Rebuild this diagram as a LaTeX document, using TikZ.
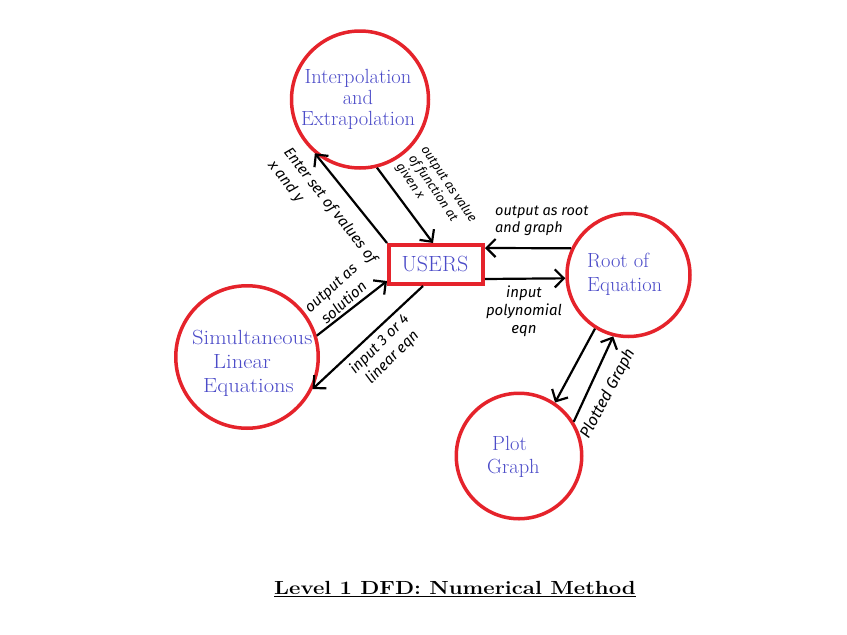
\documentclass[tikz,border=0pt]{standalone}
\usepackage{fontspec}
\newfontfamily\hand{Fira Sans}
\usetikzlibrary{arrows.meta}
\definecolor{dfdred}{HTML}{E5232B}
\definecolor{dfdblue}{HTML}{4B4BC8}
\tikzset{
  proc/.style={circle, draw=dfdred, line width=3.5pt, inner sep=0pt},
  store/.style={rectangle, draw=dfdred, line width=4pt, inner sep=0pt, minimum width=94pt, minimum height=39pt},
  ptext/.style={text=dfdblue, inner sep=0pt, font=\fontsize{20.5}{24}\selectfont},
  flow/.style={line width=2.2pt, -{Straight Barb[length=9pt,width=18pt]}},
  lbl/.style={inner sep=0pt, font=\hand\itshape\fontsize{15}{18}\selectfont},
}
\begin{document}
\begin{tikzpicture}[x=1pt,y=-1pt]
\useasboundingbox (0,0) rectangle (847,635);
% processes
\node[proc, minimum size=137pt] (interp) at (360,99.5) {};
\node[proc, minimum size=142.5pt] (simul) at (247,357) {};
\node[proc, minimum size=123pt] (root) at (628.5,275) {};
\node[proc, minimum size=125.5pt] (plot) at (519,456) {};
\node[store] (users) at (436,264.5) {};
% process texts
\node[ptext, align=center, font=\fontsize{20.5}{21}\selectfont] (tinterp) at (358,99) {Interpolation\\and\\Extrapolation};
\node[ptext, align=left, anchor=west] (tsimul) at (192,363) {\scalebox{1.1}[1]{Simultaneous}\\\hspace*{21pt}\scalebox{1.1}[1]{Linear}\\\hspace*{11pt}\scalebox{1.1}[1]{Equations}};
\node[ptext, align=left, anchor=west] (troot) at (587,274.5) {Root of\\Equation};
\node[ptext, align=left, anchor=west, font=\fontsize{20.5}{23}\selectfont] (tplot) at (487,456.5) {\hspace*{5pt}Plot\\Graph};
\node[ptext, font=\fontsize{22}{24}\selectfont] (tusers) at (435,264) {USERS};
% flows
\draw[flow] (users.north west) -- (interp.230);
\draw[flow] (interp.284) -- ([xshift=-3pt]users.north);
\draw[flow] (root.155) -- ([yshift=16.5pt]users.east);
\draw[flow] ([yshift=-14.5pt]users.east) -- (root.183);
\draw[flow] (simul.17) -- ([yshift=-16.5pt]users.west);
\draw[flow] ([xshift=-13pt]users.south) -- (simul.334);
\draw[flow] (root.238) -- (plot.56);
\draw[flow] (plot.32) -- (root.256);
% flow labels
\node[lbl, rotate=-52, align=left, font=\hand\itshape\fontsize{15}{20}\selectfont] (l1) at (322,212) {Enter set of values of\\x and y};
\node[lbl, rotate=-56, align=left, font=\hand\itshape\fontsize{12.7}{15}\selectfont] (l2) at (436,193) {output as value\\of function at\\given x};
\node[lbl, align=left, anchor=west, font=\hand\itshape\fontsize{14.5}{17}\selectfont] (l3) at (495,221) {output as root\\and graph};
\node[lbl, align=center, font=\hand\itshape\fontsize{15}{18}\selectfont] (l4) at (524,311) {input\\polynomial\\eqn};
\node[lbl, rotate=42, align=center, font=\hand\itshape\fontsize{15}{19.5}\selectfont] (l5) at (337.5,295.5) {output as\\solution};
\node[lbl, rotate=45, align=center, font=\hand\itshape\fontsize{15}{18.5}\selectfont] (l6) at (386,351) {input 3 or 4\\linear eqn};
\node[lbl, rotate=62, font=\hand\itshape\fontsize{16}{18}\selectfont] (l7) at (608,394) {Plotted Graph};
% title
\node[inner sep=0pt] (title) at (455,589) {\scalebox{1.165}[1]{\fontsize{19}{23}\selectfont\bfseries\underline{Level 1 DFD: Numerical Method}}};
\end{tikzpicture}
\end{document}
